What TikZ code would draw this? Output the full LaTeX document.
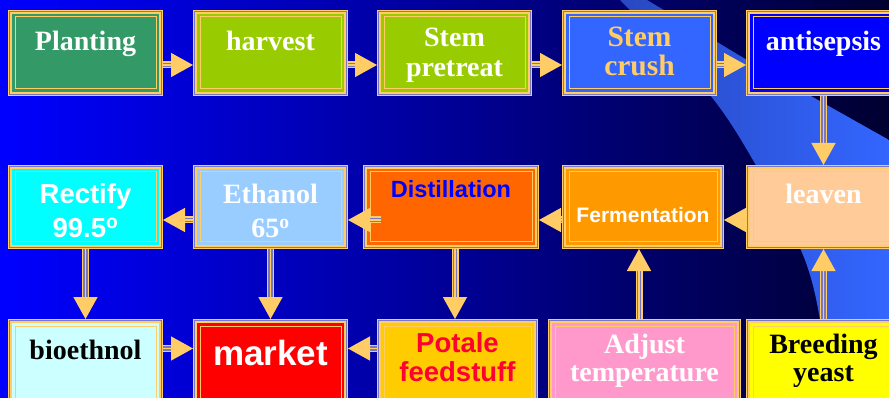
\documentclass[tikz,border=0pt]{standalone}
\usepackage{fontspec}
\setmainfont{Liberation Serif}
\newfontfamily\arialf{Liberation Sans}
\usetikzlibrary{arrows.meta}
\definecolor{frameO}{HTML}{FFCC66}
\definecolor{frameG}{HTML}{7878C0}
\definecolor{bgL}{HTML}{0000FF}
\definecolor{bgR}{HTML}{000030}
\definecolor{swL}{HTML}{2848C0}
\definecolor{swR}{HTML}{3366FF}
\definecolor{cPlant}{HTML}{339966}
\definecolor{cHarv}{HTML}{99CC00}
\definecolor{cCrush}{HTML}{3366FF}
\definecolor{cAnti}{HTML}{0000FF}
\definecolor{cRect}{HTML}{00FFFF}
\definecolor{cEth}{HTML}{99CCFF}
\definecolor{cDist}{HTML}{FF6600}
\definecolor{cFerm}{HTML}{FF9900}
\definecolor{cLeav}{HTML}{FFCC99}
\definecolor{cBio}{HTML}{CCFFFF}
\definecolor{cMark}{HTML}{FF0000}
\definecolor{cPot}{HTML}{FFCC00}
\definecolor{cPotT}{HTML}{FF0033}
\definecolor{cAdj}{HTML}{FF99CC}
\definecolor{cBreed}{HTML}{FFFF00}
\newcommand\boxlayer[2]{\path[#2] ([shift={(#1,-#1)}]path picture bounding box.north west) rectangle ([shift={(-#1,#1)}]path picture bounding box.south east);}
\newcommand\TT[2]{\raisebox{#1}[0pt][0pt]{\begin{tabular}[b]{@{}c@{}}#2\end{tabular}}}
\tikzset{
  box/.style={rectangle, inner sep=0pt, outer sep=0pt, fill=frameO,
    path picture={\boxlayer{1pt}{fill=frameG}\boxlayer{2pt}{fill=frameO}\boxlayer{4pt}{fill=#1}\boxlayer{7pt}{draw=frameO, line width=1pt}}},
  tnr/.style={font=\fontsize{28}{#1}\selectfont\bfseries},
  ari/.style={font=\arialf\fontsize{27.5}{#1}\selectfont\bfseries},
  conn/.style={draw=frameO, line width=1.4pt, -{Triangle[length=22pt,width=24pt]},
    preaction={draw=frameO, line width=7pt, shorten >=12pt, arrows=-},
    preaction={draw=frameG, line width=4.2pt, shorten >=12pt, arrows=-}},
}
\begin{document}
\begin{tikzpicture}[x=1pt,y=-1pt]
\useasboundingbox (0,0) rectangle (889,398);
\clip (0,0) rectangle (889,398);
\shade[left color=bgL, right color=bgR] (0,0) rectangle (889,398);
\shade[left color=swL, right color=swR] (620,0) -- (647,0) -- (747,60) -- (889,140) -- (889,398) -- plot[smooth] coordinates {(826,398) (820,320) (803,255) (757,167) (710,95) (620,0)} -- cycle;
% row 1
\node[box=cPlant, minimum width=155pt, minimum height=86pt, tnr=30, text=white] (plant) at (85.5,53) {\TT{2pt}{Planting}};
\node[box=cHarv, minimum width=155pt, minimum height=86pt, tnr=30, text=white] (harv) at (270.5,53) {\TT{2pt}{harvest}};
\node[box=cHarv, minimum width=155pt, minimum height=86pt, tnr=30, text=white] (pret) at (454.5,53) {\TT{-24pt}{Stem\\pretreat}};
\node[box=cCrush, minimum width=155pt, minimum height=86pt, font=\fontsize{29.5}{29}\selectfont\bfseries, text=frameO] (crush) at (639.5,53) {\TT{-23pt}{Stem\\crush}};
\node[box=cAnti, minimum width=155pt, minimum height=86pt, tnr=30, text=white] (anti) at (823.5,53) {\TT{2pt}{antisepsis}};
% row 2
\node[box=cRect, minimum width=155pt, minimum height=84pt, ari=34, text=white] (rect) at (85.5,207) {\TT{-31pt}{Rectify\\99.5\textsuperscript{o}}};
\node[box=cEth, minimum width=155pt, minimum height=84pt, tnr=34, text=white] (eth) at (270.5,207) {\TT{-31pt}{Ethanol\\65\textsuperscript{o}}};
\node[box=cDist, minimum width=176pt, minimum height=84pt, font=\arialf\fontsize{23.5}{26}\selectfont\bfseries, text=cAnti] (dist) at (451,207) {\TT{9pt}{Distillation}};
\node[box=cFerm, minimum width=162pt, minimum height=84pt, font=\arialf\fontsize{21}{24}\selectfont\bfseries, text=white] (ferm) at (643,207) {\TT{-16pt}{Fermentation}};
\node[box=cLeav, minimum width=155pt, minimum height=84pt, tnr=30, text=white] (leav) at (823.5,207) {\TT{3pt}{leaven}};
% row 3
\node[box=cBio, minimum width=155pt, minimum height=86pt, tnr=30, text=black] (bio) at (85.5,362) {\TT{3pt}{bioethnol}};
\node[box=cMark, minimum width=155pt, minimum height=86pt, font=\arialf\fontsize{35}{38}\selectfont\bfseries, text=white] (mark) at (270.5,362) {\TT{-3pt}{market}};
\node[box=cPot, minimum width=161pt, minimum height=86pt, ari=28, text=cPotT] (pot) at (457.5,362) {\TT{-19pt}{Potale\\feedstuff}};
\node[box=cAdj, minimum width=193pt, minimum height=86pt, tnr=28, text=white] (adj) at (644.5,362) {\TT{-19pt}{Adjust\\temperature}};
\node[box=cBreed, minimum width=155pt, minimum height=86pt, tnr=28, text=black] (breed) at (823.5,362) {\TT{-19pt}{Breeding\\yeast}};
% connectors
\draw[conn] ([yshift=-12pt]plant.east) -- ([yshift=-12pt]harv.west);
\draw[conn] ([yshift=-12pt]harv.east) -- ([yshift=-12pt]pret.west);
\draw[conn] ([yshift=-12pt]pret.east) -- ([yshift=-12pt]crush.west);
\draw[conn] ([yshift=-12pt]crush.east) -- ([yshift=-12pt]anti.west);
\draw[conn] (anti.south) -- (leav.north);
\draw[conn] ([yshift=-13pt]leav.west) -- ([yshift=-13pt]ferm.east);
\draw[conn] ([yshift=-13pt]ferm.west) -- ([yshift=-13pt]dist.east);
\draw[conn] ([xshift=18pt,yshift=-13pt]dist.west) -- ([yshift=-13pt]eth.east);
\draw[conn] ([yshift=-13pt]eth.west) -- ([yshift=-13pt]rect.east);
\draw[conn] (rect.south) -- (bio.north);
\draw[conn] (eth.south) -- (mark.north);
\draw[conn] ([xshift=4pt]dist.south) -- ([xshift=-2.5pt]pot.north);
\draw[conn] ([xshift=-5.5pt]adj.north) -- ([xshift=-4pt]ferm.south);
\draw[conn] (breed.north) -- (leav.south);
\draw[conn] ([yshift=13.5pt]bio.east) -- ([yshift=13.5pt]mark.west);
\draw[conn] ([yshift=13.5pt]pot.west) -- ([yshift=13.5pt]mark.east);
\end{tikzpicture}
\end{document}
